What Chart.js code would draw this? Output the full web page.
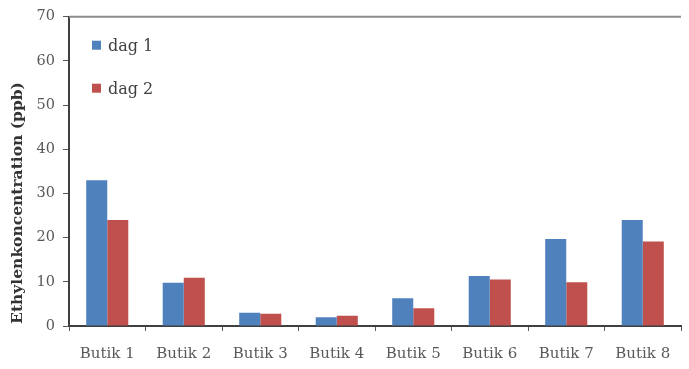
<!DOCTYPE html>
<html>
<head>
<meta charset="utf-8">
<script src="https://cdn.jsdelivr.net/npm/chart.js@4/dist/chart.umd.min.js"></script>
<style>
  html, body { margin: 0; padding: 0; background: #ffffff; }
  #wrap { width: 689px; height: 369px; }
</style>
</head>
<body>
<div id="wrap"><canvas id="c" width="689" height="369"></canvas></div>
<script>
// Ethylene concentration per shop, measured on two days (ppb)
const shops = ['Butik 1', 'Butik 2', 'Butik 3', 'Butik 4', 'Butik 5', 'Butik 6', 'Butik 7', 'Butik 8'];
const day1 = [33, 9.8, 3.0, 2.0, 6.3, 11.3, 19.7, 24.0];
const day2 = [24, 10.9, 2.8, 2.3, 4.0, 10.5, 9.9, 19.1];
const seriesNames = ['dag 1', 'dag 2'];
const yTitle = 'Ethylenkoncentration (ppb)';

const SERIF = '"DejaVu Serif", "Liberation Serif", serif';

// Top frame line, the rotated axis title and a stacked legend inside the plot
const extras = {
  id: 'extras',
  afterDraw(chart) {
    const { ctx, chartArea } = chart;
    ctx.save();
    ctx.strokeStyle = '#8c8c8c';
    ctx.lineWidth = 2;
    ctx.beginPath();
    ctx.moveTo(chartArea.left, chartArea.top);
    ctx.lineTo(chartArea.right, chartArea.top);
    ctx.stroke();

    // legend entries, one per dataset
    ctx.font = '16px ' + SERIF;
    ctx.textAlign = 'left';
    ctx.textBaseline = 'middle';
    chart.data.datasets.forEach((ds, i) => {
      const cy = chartArea.top + 29 + i * 43;
      ctx.fillStyle = ds.backgroundColor;
      ctx.fillRect(chartArea.left + 23, cy - 5, 9, 9);
      ctx.fillStyle = '#404040';
      ctx.fillText(ds.label, chartArea.left + 39, cy + 1);
    });

    ctx.translate(18, 203);
    ctx.rotate(-Math.PI / 2);
    ctx.fillStyle = '#333333';
    ctx.font = 'bold 15.5px ' + SERIF;
    ctx.textAlign = 'center';
    ctx.textBaseline = 'middle';
    ctx.fillText(yTitle, 0, 0);
    ctx.restore();
  }
};

new Chart(document.getElementById('c'), {
  type: 'bar',
  data: {
    labels: shops,
    datasets: [
      { label: seriesNames[0], data: day1, backgroundColor: '#4F81BD' },
      { label: seriesNames[1], data: day2, backgroundColor: '#C0504D' }
    ]
  },
  options: {
    responsive: false,
    animation: false,
    devicePixelRatio: 1,
    layout: { padding: { top: 13, right: 8, left: 0, bottom: 0 } },
    datasets: { bar: { categoryPercentage: 0.55, barPercentage: 1.0 } },
    plugins: {
      tooltip: { enabled: false },
      legend: { display: false }
    },
    scales: {
      x: {
        grid: { display: true, drawOnChartArea: false, tickLength: 5, color: '#595959', offset: true },
        border: { display: true, color: '#404040', width: 2 },
        ticks: { color: '#595959', padding: 14, font: { family: SERIF, size: 15 } },
        afterFit(scale) { scale.height = 43; }
      },
      y: {
        min: 0,
        max: 70,
        grid: { display: true, drawOnChartArea: false, tickLength: 6, color: '#595959' },
        border: { display: true, color: '#404040', width: 2 },
        ticks: { stepSize: 10, color: '#595959', padding: 8, font: { family: SERIF, size: 14.5 } },
        afterFit(scale) { scale.width = 69; }
      }
    }
  },
  plugins: [extras]
});
</script>
</body>
</html>
